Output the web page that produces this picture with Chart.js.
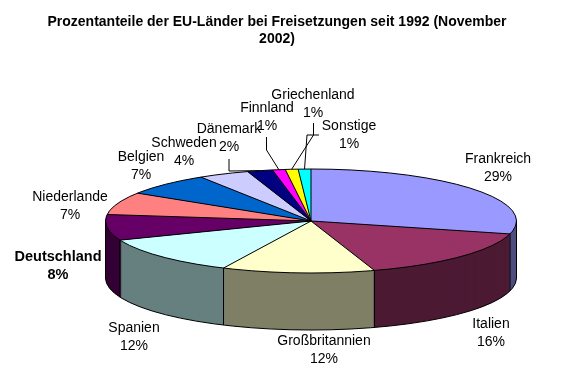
<!DOCTYPE html>
<html>
<head>
<meta charset="utf-8">
<script src="https://cdn.jsdelivr.net/npm/chart.js@4"></script>
<style>
  html, body { margin: 0; padding: 0; background: #ffffff; }
  #wrap { width: 587px; height: 381px; }
</style>
</head>
<body>
<div id="wrap"><canvas id="c" width="587" height="381"></canvas></div>
<script>
// ---- data ----
const titleLines = ['Prozentanteile der EU-Länder bei Freisetzungen seit 1992 (November', '2002)'];
const categories = ['Frankreich', 'Italien', 'Großbritannien', 'Spanien', 'Deutschland', 'Niederlande',
                    'Belgien', 'Schweden', 'Dänemark', 'Finnland', 'Griechenland', 'Sonstige'];
const shares = [29, 16, 12, 12, 8, 7, 7, 4, 2, 1, 1, 1];

// ---- styles / layout ----
const sliceColors = ['#9999FF', '#993366', '#FFFFCC', '#CCFFFF', '#660066', '#FF8080',
                     '#0066CC', '#CCCCFF', '#000080', '#FF00FF', '#FFFF00', '#00FFFF'];
const GEO = { cx: 311, cy: 221, rx: 205.5, ry: 52, depth: 57 };
// label anchor (centre of first text line)
const labelPos = [[498, 159], [491, 324], [324, 341], [134, 328], [58, 257], [70, 197],
                  [141, 157], [184, 143], [229, 129], [267, 108], [313, 95], [349, 126]];
const boldLabel = [false, false, false, false, true, false, false, false, false, false, false, false];
// leader line start polylines (end is computed at slice middle)
const leaders = { 8: [[229, 159], [229, 171]], 9: [[266.5, 137], [266.5, 150]],
                  10: [[313.5, 123], [313.5, 135]], 11: [[319, 135], [307, 135]] };
const LABEL_FONT = '14px "Liberation Sans", Arial, sans-serif';
const LABEL_FONT_B = 'bold 14.5px "Liberation Sans", Arial, sans-serif';

const pie3d = {
  id: 'pie3d',
  beforeDatasetsDraw(chart) {
    const ctx = chart.ctx;
    const arcs = chart.getDatasetMeta(0).data;
    const a0 = arcs[0];
    const sx = GEO.rx / a0.outerRadius, sy = GEO.ry / a0.outerRadius;
    ctx.save();
    for (let d = GEO.depth; d >= 1; d--) {
      ctx.save();
      ctx.translate(GEO.cx, GEO.cy + d);
      ctx.scale(sx, sy);
      ctx.translate(-a0.x, -a0.y);
      arcs.forEach(a => a.draw(ctx));
      ctx.restore();
    }
    ctx.globalCompositeOperation = 'source-atop';
    ctx.fillStyle = 'rgba(0,0,0,0.5)';
    ctx.fillRect(0, GEO.cy - GEO.ry - 2, chart.width, chart.height);
    ctx.restore();
    // top face transform, kept while Chart.js draws the slices
    ctx.save();
    ctx.translate(GEO.cx, GEO.cy);
    ctx.scale(sx, sy);
    ctx.translate(-a0.x, -a0.y);
  },
  afterDatasetsDraw(chart) {
    const ctx = chart.ctx;
    ctx.restore();
    const arcs = chart.getDatasetMeta(0).data;
    const { cx, cy, rx, ry, depth } = GEO;
    ctx.save();
    ctx.strokeStyle = '#000';
    ctx.lineWidth = 1;
    ctx.beginPath(); ctx.ellipse(cx, cy, rx, ry, 0, 0, Math.PI * 2); ctx.stroke();
    ctx.beginPath(); ctx.ellipse(cx, cy + depth, rx, ry, 0, 0, Math.PI); ctx.stroke();
    ctx.beginPath();
    ctx.moveTo(cx - rx, cy); ctx.lineTo(cx - rx, cy + depth);
    ctx.moveTo(cx + rx, cy); ctx.lineTo(cx + rx, cy + depth);
    arcs.forEach(a => {
      const t = a.startAngle;
      const px = cx + rx * Math.cos(t), py = cy + ry * Math.sin(t);
      ctx.moveTo(cx, cy); ctx.lineTo(px, py);
      if (Math.sin(t) > 0.01) { ctx.moveTo(px, py); ctx.lineTo(px, py + depth); }
    });
    ctx.stroke();
    // leader lines
    ctx.beginPath();
    Object.keys(leaders).forEach(k => {
      const a = arcs[k];
      const m = (a.startAngle + a.endAngle) / 2;
      const pts = leaders[k];
      ctx.moveTo(pts[0][0], pts[0][1]);
      for (let i = 1; i < pts.length; i++) ctx.lineTo(pts[i][0], pts[i][1]);
      ctx.lineTo(cx + rx * Math.cos(m), cy + ry * Math.sin(m));
    });
    ctx.stroke();
    // labels
    ctx.fillStyle = '#000';
    ctx.textAlign = 'center';
    ctx.textBaseline = 'middle';
    categories.forEach((name, i) => {
      ctx.font = boldLabel[i] ? LABEL_FONT_B : LABEL_FONT;
      const [x, y] = labelPos[i];
      ctx.fillText(name, x, y);
      ctx.fillText(shares[i] + '%', x, y + 18);
    });
    ctx.restore();
  }
};

new Chart(document.getElementById('c'), {
  type: 'pie',
  data: {
    labels: categories,
    datasets: [{ data: shares, backgroundColor: sliceColors, borderWidth: 0, clip: false }]
  },
  options: {
    responsive: false,
    devicePixelRatio: 1,
    animation: false,
    events: [],
    layout: { padding: { right: 33 } },
    plugins: {
      legend: { display: false },
      tooltip: { enabled: false },
      title: {
        display: true,
        text: titleLines,
        color: '#000',
        font: { family: '"Liberation Sans", Arial, sans-serif', size: 14, weight: 'bold', lineHeight: 1.2 },
        padding: { top: 13.5, bottom: 8 }
      }
    }
  },
  plugins: [pie3d]
});
</script>
</body>
</html>
